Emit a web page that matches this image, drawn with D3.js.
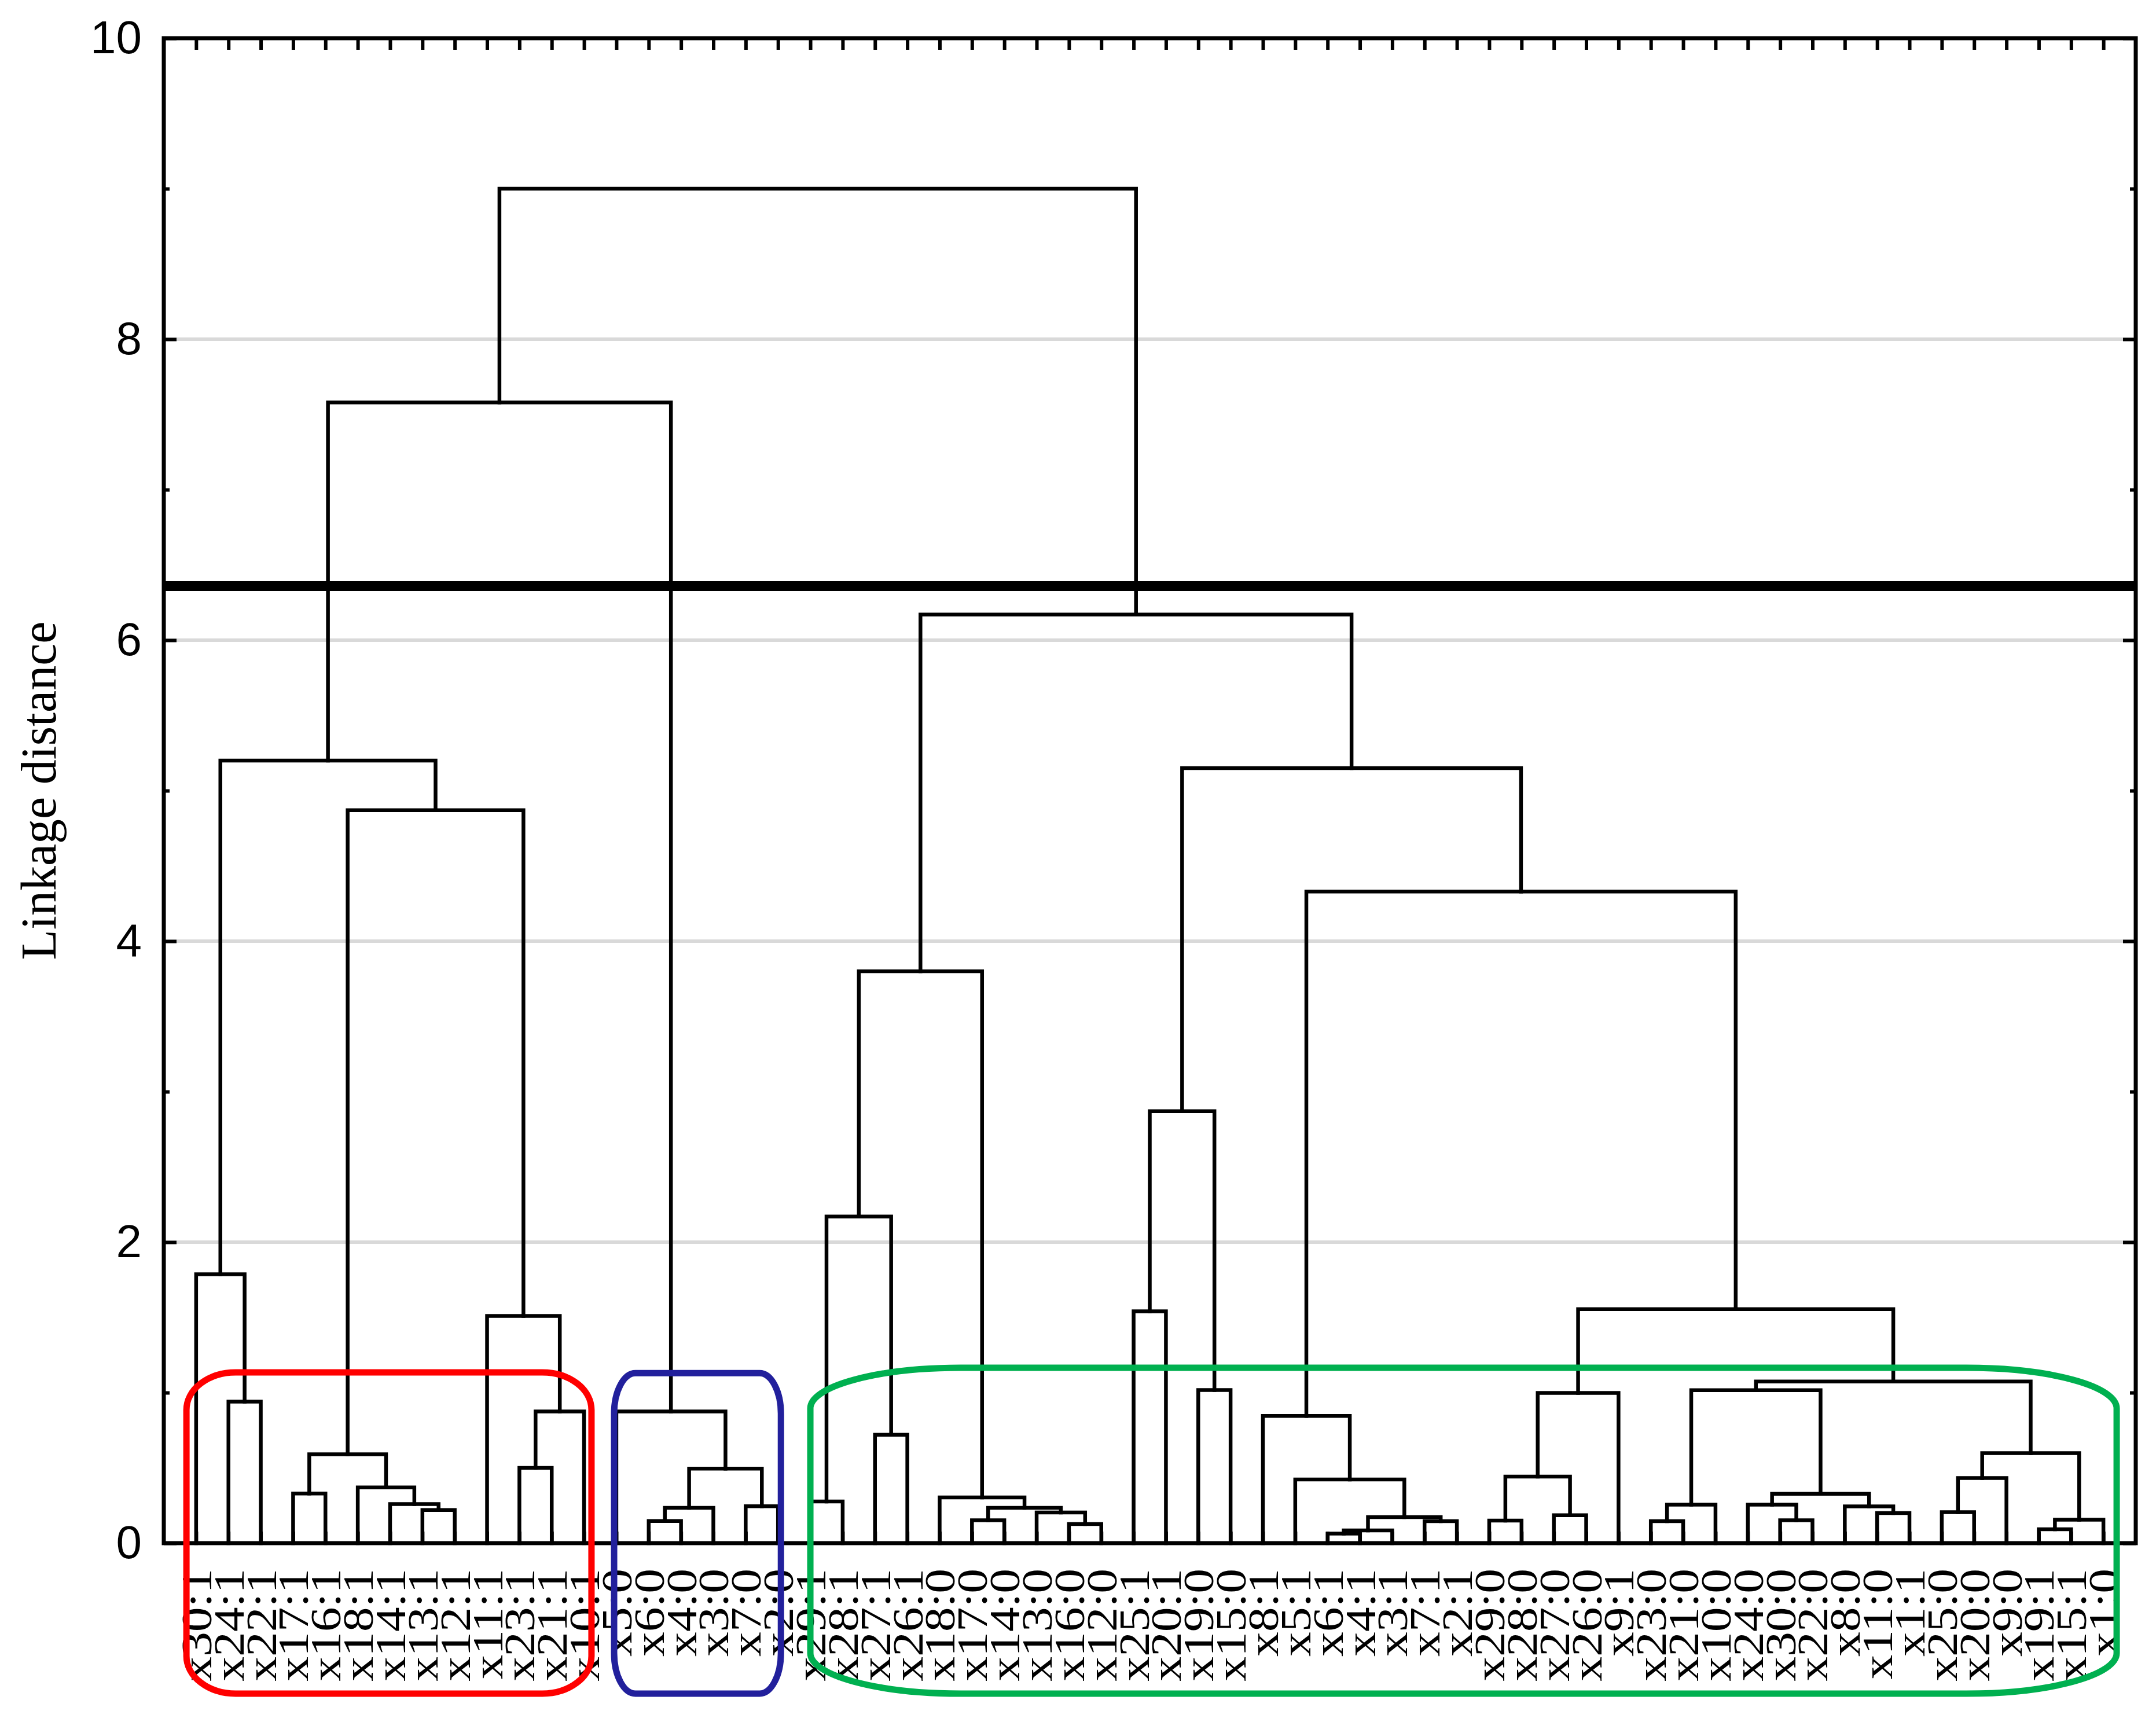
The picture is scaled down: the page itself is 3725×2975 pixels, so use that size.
<!DOCTYPE html>
<html>
<head>
<meta charset="utf-8">
<script src="https://cdn.jsdelivr.net/npm/d3@7"></script>
<style>
  html, body { margin: 0; padding: 0; background: #ffffff; }
  svg { display: block; }
</style>
</head>
<body>
<svg id="chart" width="3725" height="2975"></svg>
<script>
// ---------------- DATA ----------------
// Leaf labels in dendrogram order (left to right)
const leafLabels = [
  "x30:1","x24:1","x22:1","x17:1","x16:1","x18:1","x14:1","x13:1","x12:1","x11:1",
  "x23:1","x21:1","x10:1","x5:0","x6:0","x4:0","x3:0","x7:0","x2:0","x29:1",
  "x28:1","x27:1","x26:1","x18:0","x17:0","x14:0","x13:0","x16:0","x12:0","x25:1",
  "x20:1","x19:0","x15:0","x8:1","x5:1","x6:1","x4:1","x3:1","x7:1","x2:1",
  "x29:0","x28:0","x27:0","x26:0","x9:1","x23:0","x21:0","x10:0","x24:0","x30:0",
  "x22:0","x8:0","x11:0","x1:1","x25:0","x20:0","x9:0","x19:1","x15:1","x1:0"
];
// Merges: children are "L<leaf number 1..60>" or "M<merge index>"
const mergeLeft = [
  "L2","L1","L4","L8","L7","L6","M2","L11","M7","L10","M6","M1",
  "L15","M12","L18","M13","L14","M11",
  "L20","L22","M18","L25","L28","L27","M21","L24","M20","L30","L32","M27",
  "L36","M30","L39","M31","L35","L34","L41","L43","M36","M38","L46","M40",
  "L50","L49","L53","L52","M43","M41","L55","M48","L58","M50","M49","M47",
  "M39","M35","M29","M26","M17"
];
const mergeRight = [
  "L3","M0","L5","L9","M3","M4","M5","L12","L13","M8","M9","M10",
  "L16","L17","L19","M14","M15","M16",
  "L21","L23","M19","L26","L29","M22","M23","M24","M25","L31","L33","M28",
  "L37","L38","L40","M32","M33","M34","L42","L44","M37","L45","L47","L48",
  "L51","M42","L54","M44","M45","M46","L56","L57","L59","L60","M51","M52",
  "M53","M54","M55","M56","M57"
];
const mergeHeight = [
  0.94,1.787,0.33,0.22,0.26,0.37,0.59,0.50,0.875,1.51,4.87,5.20,
  0.147,0.235,0.245,0.495,0.875,7.58,
  0.277,0.72,2.17,0.152,0.127,0.204,0.235,0.304,3.80,1.54,1.017,2.87,
  0.063,0.085,0.146,0.173,0.423,0.845,0.15,0.186,0.442,0.998,0.146,0.256,
  0.152,0.256,0.20,0.244,0.328,1.016,0.206,0.433,0.092,0.156,0.598,1.074,
  1.555,4.33,5.15,6.17,9.00
];
const yMajorTicks = [0, 2, 4, 6, 8, 10];
const yMinorTicks = [1, 3, 5, 7, 9];
const gridValues = [2, 4, 6, 8];
const cutHeight = 6.36;
const yTitle = "Linkage distance";
// Annotation boxes: [leftLeafPos, rightLeafPos, topValue, bottomValue]
const boxNames = ["red", "blue", "green"];
const boxExtents = [
  [0.70, 13.23, 1.135, -1.0],
  [13.93, 19.09, 1.13, -1.0],
  [20.0, 60.41, 1.165, -1.0]
];
const boxColors = ["#ff0000", "#22209c", "#00b050"];

// ---------------- LAYOUT ----------------
const svg = d3.select("#chart");
svg.append("rect").attr("width", 3725).attr("height", 2975).attr("fill", "#fff");

const plotL = 283, plotR = 3690, plotT = 66, plotB = 2666;
const x = d3.scaleLinear().domain([0, leafLabels.length + 1]).range([plotL, plotR]);
const y = d3.scaleLinear().domain([0, 10]).range([plotB, plotT]);

// gridlines
svg.append("g").selectAll("line").data(gridValues).join("line")
  .attr("x1", plotL).attr("x2", plotR)
  .attr("y1", d => y(d)).attr("y2", d => y(d))
  .attr("stroke", "#d9d9d9").attr("stroke-width", 6);

// axes (ticks inward)
const axisStyle = g => {
  g.select(".domain").remove();
  g.selectAll(".tick line").attr("stroke", "#000").attr("stroke-width", 6);
};
svg.append("g").attr("transform", `translate(${plotL},0)`)
  .call(d3.axisLeft(y).tickValues(yMajorTicks).tickSizeInner(-22).tickSizeOuter(0)
        .tickPadding(38).tickFormat(d3.format("d")))
  .call(axisStyle)
  .call(g => g.selectAll(".tick text")
      .attr("font-family", "'Liberation Sans', Arial, sans-serif")
      .attr("font-size", 80).attr("fill", "#000"));
svg.append("g").attr("transform", `translate(${plotL},0)`)
  .call(d3.axisLeft(y).tickValues(yMinorTicks).tickSizeInner(-10).tickSizeOuter(0).tickFormat(""))
  .call(axisStyle);
svg.append("g").attr("transform", `translate(${plotR},0)`)
  .call(d3.axisRight(y).tickValues(yMajorTicks).tickSizeInner(-22).tickSizeOuter(0).tickFormat(""))
  .call(axisStyle);
svg.append("g").attr("transform", `translate(${plotR},0)`)
  .call(d3.axisRight(y).tickValues(yMinorTicks).tickSizeInner(-10).tickSizeOuter(0).tickFormat(""))
  .call(axisStyle);
const leafIdx = d3.range(1, leafLabels.length + 1);
svg.append("g").attr("transform", `translate(0,${plotT})`)
  .call(d3.axisTop(x).tickValues(leafIdx).tickSizeInner(-20).tickSizeOuter(0).tickFormat(""))
  .call(axisStyle);
svg.append("g").attr("transform", `translate(0,${plotB})`)
  .call(d3.axisBottom(x).tickValues(leafIdx).tickSizeInner(-20).tickSizeOuter(0).tickFormat(""))
  .call(axisStyle);

// y title
svg.append("text")
  .attr("transform", `translate(96,${(plotT + plotB) / 2}) rotate(-90)`)
  .attr("text-anchor", "middle")
  .attr("font-family", "'Liberation Serif', 'Times New Roman', serif")
  .attr("font-size", 86).attr("fill", "#000")
  .text(yTitle);

// ---------------- DENDROGRAM ----------------
const nodePos = {};
const nodeH = {};
leafLabels.forEach((l, i) => { nodePos["L" + (i + 1)] = i + 1; nodeH["L" + (i + 1)] = 0; });
const links = mergeHeight.map((h, i) => {
  const a = mergeLeft[i], b = mergeRight[i];
  const pa = nodePos[a], pb = nodePos[b];
  nodePos["M" + i] = (pa + pb) / 2;
  nodeH["M" + i] = h;
  return { pa, pb, ha: nodeH[a], hb: nodeH[b], h };
});
svg.append("g").selectAll("path").data(links).join("path")
  .attr("d", d => `M${x(d.pa)},${y(d.ha)}V${y(d.h)}H${x(d.pb)}V${y(d.hb)}`)
  .attr("fill", "none").attr("stroke", "#000").attr("stroke-width", 6.5)
  .attr("stroke-linejoin", "miter").attr("stroke-linecap", "square");

// frame
svg.append("rect").attr("x", plotL).attr("y", plotT)
  .attr("width", plotR - plotL).attr("height", plotB - plotT)
  .attr("fill", "none").attr("stroke", "#000").attr("stroke-width", 7);

// cut line
svg.append("line").attr("x1", plotL).attr("x2", plotR)
  .attr("y1", y(cutHeight)).attr("y2", y(cutHeight))
  .attr("stroke", "#000").attr("stroke-width", 17);

// leaf labels
svg.append("g").selectAll("text").data(leafLabels).join("text")
  .attr("transform", (d, i) => `translate(${x(i + 1) + 26},2710) rotate(-90) scale(1.14,1)`)
  .attr("text-anchor", "end")
  .attr("font-family", "'Liberation Serif', 'Times New Roman', serif")
  .attr("font-size", 75).attr("fill", "#000")
  .text(d => d);

// annotation boxes
const boxR = [[85, 65], [37, 70], [260, 70]];
svg.append("g").selectAll("rect").data(boxExtents).join("rect")
  .attr("x", d => x(d[0])).attr("y", d => y(d[2]))
  .attr("width", d => x(d[1]) - x(d[0])).attr("height", d => y(d[3]) - y(d[2]))
  .attr("rx", (d, i) => boxR[i][0]).attr("ry", (d, i) => boxR[i][1])
  .attr("fill", "none").attr("stroke", (d, i) => boxColors[i]).attr("stroke-width", 11)
  .attr("class", (d, i) => "box-" + boxNames[i]);
</script>
</body>
</html>
